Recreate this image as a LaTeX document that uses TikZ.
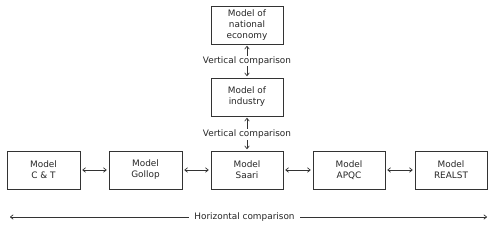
\documentclass[tikz,border=0pt]{standalone}
\usepackage{fontspec}
\setmainfont{DejaVu Sans}
\usetikzlibrary{arrows.meta}
\begin{document}
\begin{tikzpicture}[x=1pt,y=-1pt,
  mbox/.style={draw=black!80,line width=0.7pt,minimum width=72pt,minimum height=38pt,align=center,inner sep=0pt,font=\fontsize{8.9}{11}\selectfont,text=black!85},
  conn/.style={draw=black!80,line width=0.7pt,{To[length=3.5pt,width=5pt]}-{To[length=3.5pt,width=5pt]}},
  lab/.style={fill=white,inner sep=1pt,font=\fontsize{8.9}{10}\selectfont,text=black!85}]
\useasboundingbox (0,0) rectangle (500,228);
\node[mbox] (nat) at (247,25) {Model of\\national\\economy};
\node[mbox] (ind) at (247,97) {Model of\\industry};
\node[mbox,minimum width=73pt] (ct) at (43.5,170) {Model\\C \& T};
\node[mbox,minimum width=73pt] (gol) at (145.5,170) {Model\\Gollop};
\node[mbox] (saa) at (247,170) {Model\\Saari};
\node[mbox] (apq) at (349,170) {Model\\APQC};
\node[mbox] (rea) at (451,170) {Model\\REALST};
\coordinate (hl) at (10,217);
\coordinate (hr) at (487,217);
\draw[conn] ([yshift=-1.5pt]nat.south) -- node[lab] {Vertical comparison} ([yshift=1.5pt]ind.north);
\draw[conn] ([yshift=-1.5pt]ind.south) -- node[lab,pos=0.53] {Vertical comparison} ([yshift=1.5pt]saa.north);
\draw[conn] ([xshift=2pt]ct.east) -- ([xshift=-2pt]gol.west);
\draw[conn] ([xshift=2pt]gol.east) -- ([xshift=-2pt]saa.west);
\draw[conn] ([xshift=2pt]saa.east) -- ([xshift=-2pt]apq.west);
\draw[conn] ([xshift=2pt]apq.east) -- ([xshift=-2pt]rea.west);
\draw[conn] (hl) -- node[lab,inner xsep=5pt,xshift=-4pt] {Horizontal comparison} (hr);
\end{tikzpicture}
\end{document}
